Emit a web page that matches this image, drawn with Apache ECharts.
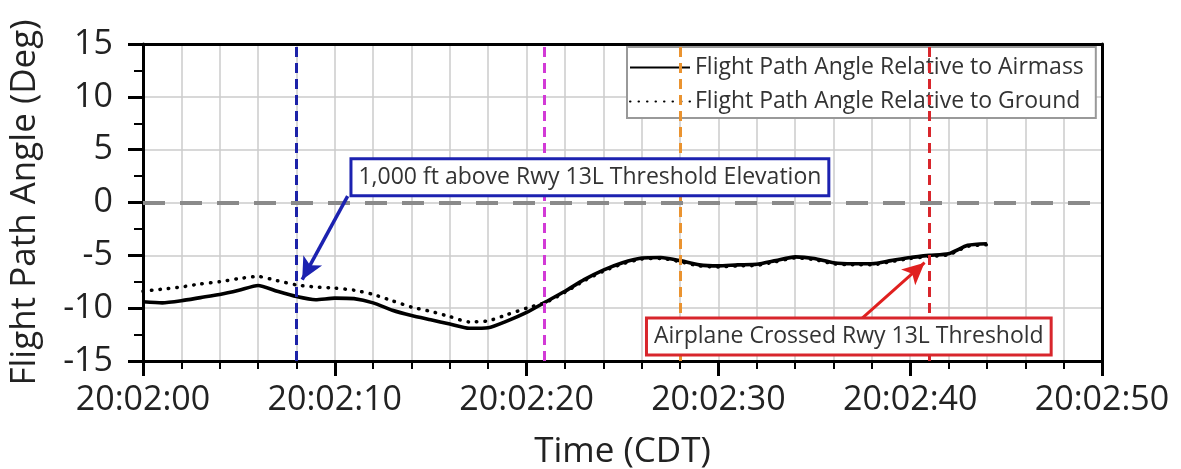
<!DOCTYPE html>
<html><head><meta charset="utf-8">
<script src="https://cdn.jsdelivr.net/npm/echarts@6/dist/echarts.min.js"></script>
<style>html,body{margin:0;padding:0;background:#fff}#c{width:1181px;height:469px}</style>
</head><body><div id="c"></div>
<script>
// seconds after 20:02:00
var times = [0,1,2,3,4,5,6,7,8,9,10,11,12,13,14,15,16,17,18,19,20,21,22,23,24,25,26,27,28,29,30,31,32,33,34,35,36,37,38,39,40,41,42,43,44];
var airmass = [-9.4,-9.5,-9.3,-9.0,-8.7,-8.3,-7.85,-8.4,-8.9,-9.2,-9.05,-9.1,-9.5,-10.2,-10.7,-11.1,-11.5,-11.9,-11.85,-11.2,-10.4,-9.4,-8.4,-7.3,-6.4,-5.7,-5.25,-5.2,-5.5,-5.9,-6.0,-5.9,-5.85,-5.5,-5.15,-5.3,-5.7,-5.8,-5.8,-5.5,-5.2,-5.0,-4.85,-4.05,-3.9];
var ground = [-8.4,-8.2,-8.0,-7.7,-7.5,-7.2,-7.0,-7.4,-7.8,-8.0,-8.1,-8.3,-8.7,-9.3,-9.9,-10.3,-10.8,-11.3,-11.2,-10.6,-10.0,-9.45,-8.5,-7.4,-6.5,-5.8,-5.35,-5.3,-5.6,-6.0,-6.1,-6.0,-5.95,-5.6,-5.25,-5.4,-5.8,-5.9,-5.9,-5.6,-5.3,-5.1,-4.95,-4.15,-4.0];
var markerTimes = [8, 20.9, 28, 41];
var markerColors = ['#1c22a8', '#d23ad6', '#ea9330', '#d8262c'];
var blueNote = {text: '1,000 ft above Rwy 13L Threshold Elevation', at: [23.3, 2.4], from: [10.67, 0.6], to: [8.3, -7.3]};
var redNote = {text: 'Airplane Crossed Rwy 13L Threshold', at: [36.8, -12.68], from: [37.5, -10.95], to: [40.75, -5.7]};

var FONT = 'Open Sans';
function pair(t, v){ return t.map(function(x,i){ return [x, v[i]]; }); }
function pad(n){ return (n < 10 ? '0' : '') + n; }

var frameAxis = {
  axisLine: {show: true, onZero: false, lineStyle: {color: '#000', width: 3}},
  axisTick: {show: false}, axisLabel: {show: false}, splitLine: {show: false}
};

var chart = echarts.init(document.getElementById('c'));
chart.setOption({
  animation: false,
  textStyle: {fontFamily: FONT},
  grid: {left: 143, right: 79, top: 44, bottom: 108, containLabel: false, outerBoundsMode: 'none'},
  legend: {
    orient: 'vertical', left: 627, top: 47, itemWidth: 60, itemHeight: 10, itemGap: 11,
    padding: [9, 12, 5, 2], backgroundColor: '#fff', borderColor: '#999', borderWidth: 2,
    itemStyle: {opacity: 0},
    textStyle: {fontFamily: FONT, fontSize: 23, color: '#333'},
    data: ['Flight Path Angle Relative to Airmass', 'Flight Path Angle Relative to Ground']
  },
  xAxis: [{
    type: 'value', min: 0, max: 50, interval: 10, position: 'bottom',
    name: 'Time (CDT)', nameLocation: 'middle', nameGap: 74,
    nameTextStyle: {fontFamily: FONT, fontSize: 35, color: '#222'},
    axisLine: {show: true, onZero: false, lineStyle: {color: '#000', width: 3}},
    axisTick: {show: true, length: 15, lineStyle: {color: '#000', width: 3}},
    minorTick: {show: true, splitNumber: 5, length: 8, lineStyle: {color: '#000', width: 2}},
    splitLine: {show: true, lineStyle: {color: '#cbcbcb', width: 1.5}},
    minorSplitLine: {show: true, lineStyle: {color: '#cbcbcb', width: 1.5}},
    axisLabel: {margin: 22, fontFamily: FONT, fontSize: 34, color: '#222',
      formatter: function(v){ return '20:02:' + pad(v); }}
  },
  Object.assign({type: 'value', min: 0, max: 50, position: 'top'}, frameAxis)],
  yAxis: [{
    type: 'value', min: -15, max: 15, interval: 5, position: 'left',
    name: 'Flight Path Angle (Deg)', nameLocation: 'middle', nameGap: 100,
    nameTextStyle: {fontFamily: FONT, fontSize: 35, color: '#222'},
    axisLine: {show: true, onZero: false, lineStyle: {color: '#000', width: 3}},
    axisTick: {show: true, length: 15, lineStyle: {color: '#000', width: 3}},
    minorTick: {show: true, splitNumber: 2, length: 9, lineStyle: {color: '#000', width: 2}},
    splitLine: {show: true, lineStyle: {color: '#cbcbcb', width: 1.5}},
    axisLabel: {margin: 30, fontFamily: FONT, fontSize: 34, color: '#222'}
  },
  Object.assign({type: 'value', min: -15, max: 15, position: 'right'}, frameAxis)],
  series: [
    {
      name: 'Flight Path Angle Relative to Ground', type: 'line', data: pair(times, ground),
      showSymbol: false, symbol: 'none', smooth: 0.2, z: 3,
      lineStyle: {color: '#000', width: 3.5, type: [0.5, 8], cap: 'round'},
      itemStyle: {color: '#000'}
    },
    {
      name: 'Flight Path Angle Relative to Airmass', type: 'line', data: pair(times, airmass),
      showSymbol: false, symbol: 'none', smooth: 0.2, z: 4,
      lineStyle: {color: '#000', width: 3.6},
      itemStyle: {color: '#000'},
      markLine: {
        silent: true, symbol: 'none', label: {show: false}, animation: false,
        data: [{yAxis: 0, lineStyle: {color: '#8a8a8a', width: 4, type: [22, 15]}}].concat(
          markerTimes.map(function(t, i){
            return {xAxis: t, lineStyle: {color: markerColors[i], width: 3, type: [10, 6]}};
          })
        ).concat([
          [{coord: blueNote.from, symbol: 'none', lineStyle: {color: '#1c22b0', width: 3.5, type: 'solid'}},
           {coord: blueNote.to, symbol: 'arrow', symbolSize: [16, 22]}],
          [{coord: redNote.from, symbol: 'none', lineStyle: {color: '#e0201f', width: 3, type: 'solid'}},
           {coord: redNote.to, symbol: 'arrow', symbolSize: [16, 22]}]
        ])
      },
      markPoint: {
        silent: true, symbol: 'circle', symbolSize: 1, itemStyle: {color: 'rgba(0,0,0,0)'},
        data: [
          {coord: blueNote.at, label: {show: true, position: 'inside', formatter: blueNote.text,
            fontFamily: FONT, fontSize: 23, color: '#333', backgroundColor: '#fff',
            borderColor: '#1c22b0', borderWidth: 3, padding: [6, 6, 5, 6]}},
          {coord: redNote.at, label: {show: true, position: 'inside', formatter: redNote.text,
            fontFamily: FONT, fontSize: 23, color: '#333', backgroundColor: '#fff',
            borderColor: '#d8262c', borderWidth: 3, padding: [6, 6, 5, 6]}}
        ]
      }
    }
  ]
});
</script></body></html>
